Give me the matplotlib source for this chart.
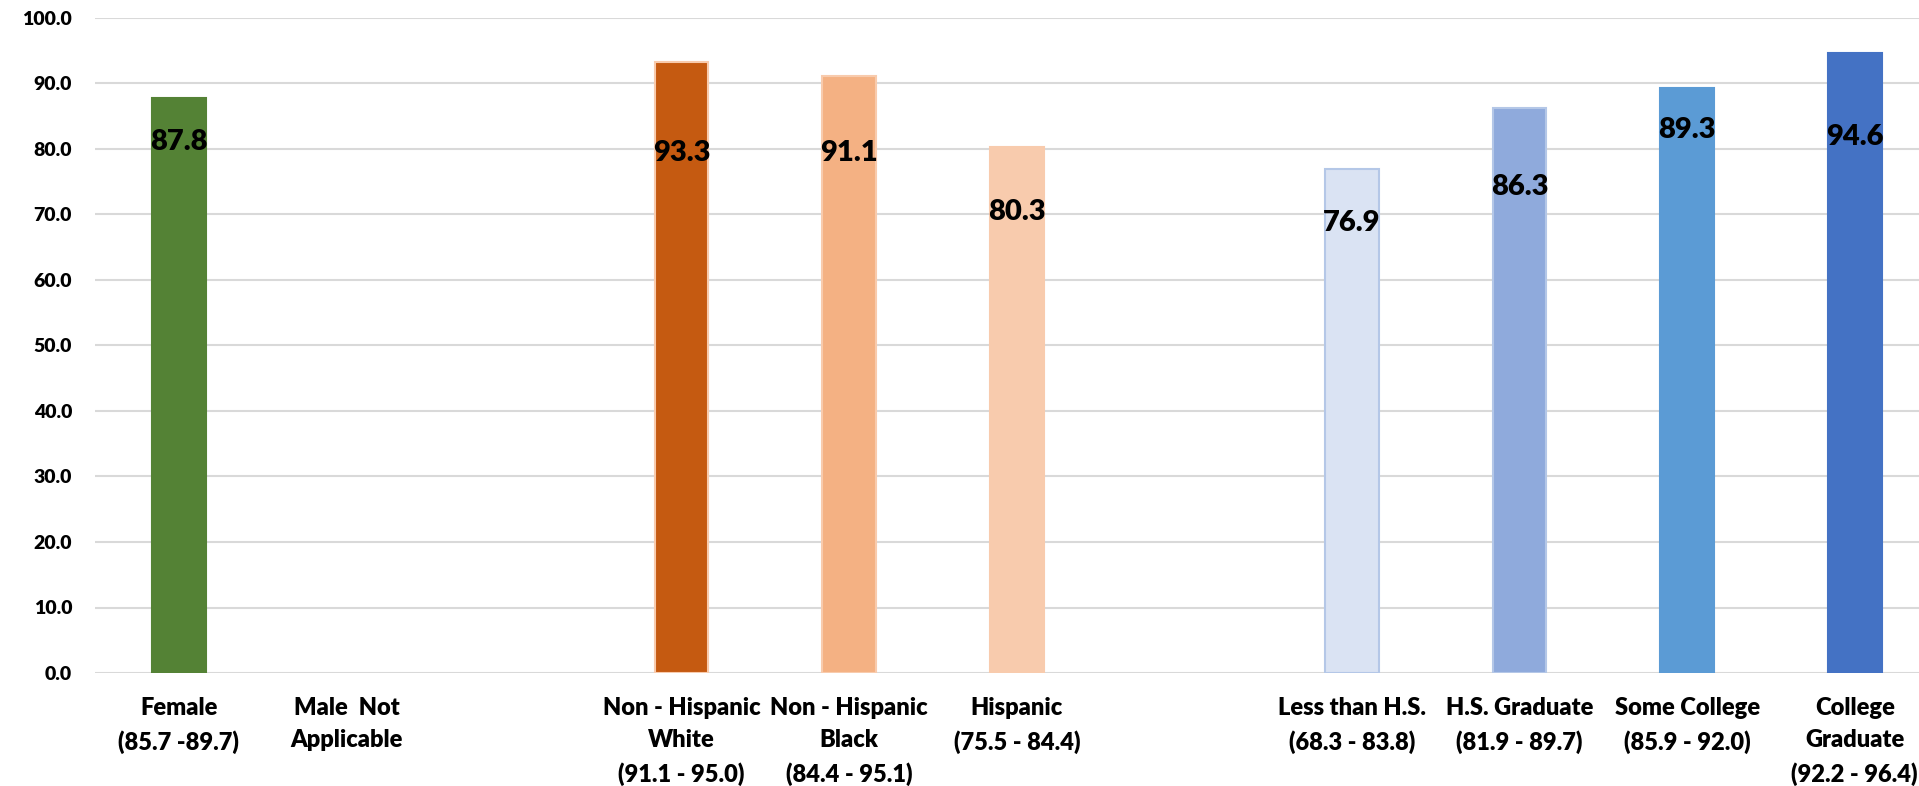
import matplotlib.pyplot as plt

# categories (blank strings are the gaps between groups)
categories = ['Female\n(85.7 -89.7)', 'Male  Not\nApplicable', '',
              'Non - Hispanic\nWhite\n(91.1 - 95.0)', 'Non - Hispanic\nBlack\n(84.4 - 95.1)',
              'Hispanic\n(75.5 - 84.4)', '',
              'Less than H.S.\n(68.3 - 83.8)', 'H.S. Graduate\n(81.9 - 89.7)',
              'Some College\n(85.9 - 92.0)', 'College\nGraduate\n(92.2 - 96.4)']
values = [87.8, None, None, 93.3, 91.1, 80.3, None, 76.9, 86.3, 89.3, 94.6]

# where the value label sits inside each bar (data units)
label_y = [81.1, None, None, 79.4, 79.4, 70.4, None, 68.7, 74.2, 82.9, 81.8]

colors = ['#548235', None, None, '#C55A11', '#F4B183', '#F8CBAD', None,
          '#DAE3F3', '#8FAADC', '#5B9BD5', '#4472C4']
edges = ['#548235', None, None, '#F8CBAD', '#F8CBAD', '#F8CBAD', None,
         '#B4C7E7', '#B4C7E7', '#5B9BD5', '#4472C4']

plt.rcParams['font.family'] = ['Lato', 'DejaVu Sans']

fig = plt.figure(figsize=(19.19, 7.86), dpi=100)
ax = fig.add_axes([95/1919, 113/786, 1843.5/1919, 655/786])

for i, v in enumerate(values):
    if v is None:
        continue
    ax.bar(i, v, width=0.32, color=colors[i], edgecolor=edges[i], linewidth=1.5, zorder=3)
    ax.text(i, label_y[i], f'{v:.1f}', ha='center', va='center',
            fontsize=21, fontweight='heavy', color='black', zorder=4)

ax.set_xlim(-0.5, 10.5)
ax.set_ylim(0, 100)
ax.set_yticks(range(0, 101, 10))
ax.set_yticklabels([f'{t:.1f}' for t in range(0, 101, 10)], fontsize=14, fontweight='heavy')
ax.set_xticks(range(len(categories)))
ax.set_xticklabels(categories, fontsize=17, fontweight='heavy', linespacing=1.58)
ax.tick_params(axis='both', length=0)
ax.tick_params(axis='y', pad=16.5)
ax.tick_params(axis='x', pad=17)
ax.grid(axis='y', color='#D9D9D9', linewidth=1.5, zorder=0)
for s in ax.spines.values():
    s.set_visible(False)

fig.savefig('out.png', dpi=100)
